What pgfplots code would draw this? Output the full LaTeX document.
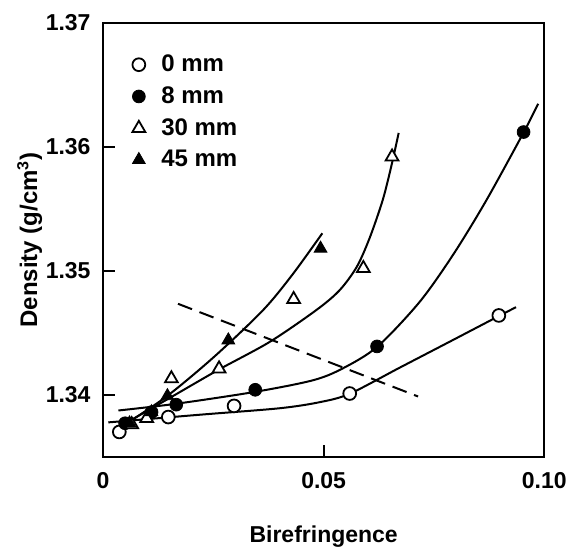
\documentclass[border=0pt]{standalone}
\usepackage{pgfplots}
\pgfplotsset{compat=1.18}
\usepackage{fontspec}
\setmainfont{Liberation Sans}
\begin{document}
\begin{tikzpicture}
\path[use as bounding box] (-51.5pt,-45.65pt) rectangle (232.5pt,228.35pt);
\begin{axis}[
  at={(0pt,0pt)}, anchor=south west,
  scale only axis, width=220.65pt, height=216.85pt,
  xmin=0, xmax=0.1, ymin=1.335, ymax=1.37,
  xtick={0,0.05,0.1}, xticklabels={0,0.05,0.10},
  ytick={1.34,1.35,1.36,1.37}, yticklabels={1.34,1.35,1.36,1.37},
  tick align=inside, xtick pos=bottom, ytick pos=left,
  major tick length=6pt,
  axis line style={line width=1pt},
  tick style={line width=0.9pt, black},
  ticklabel style={font=\bfseries\fontsize{11.5}{13}\selectfont},
  xticklabel style={yshift=-4.3pt},
  yticklabel style={xshift=-2.7pt},
  xlabel={Birefringence},
  ylabel={Density (g/cm\textsuperscript{3})},
  xlabel style={font=\bfseries\fontsize{11.5}{14}\selectfont, at={(axis description cs:0.5,-0.185)}, anchor=center},
  ylabel style={font=\bfseries\fontsize{12}{14}\selectfont, at={(axis description cs:-0.166,0.5)}, anchor=center},
  legend image code/.code={\draw[#1] plot coordinates {(0pt,0pt)}; \path (-3.5pt,0pt) (9pt,0pt);},
  legend style={at={(axis description cs:0.05,0.946)}, anchor=north west,
    draw=none, fill=none, font=\bfseries\fontsize{12}{14}\selectfont, row sep=2pt},
  legend cell align=left,
]
% fitted curves
\addplot[forget plot, smooth, line width=1pt] coordinates {
 (0.0012,1.33777) (0.0220,1.33839) (0.0400,1.33891) (0.0491,1.33940)
 (0.0559,1.34008) (0.0672,1.34218) (0.0785,1.34427) (0.0898,1.34637)
 (0.0936,1.34707)};
\addplot[forget plot, smooth, line width=1pt] coordinates {
 (0.0035,1.33873) (0.0165,1.33927) (0.0344,1.34023) (0.0476,1.34117)
 (0.0544,1.34214) (0.0622,1.34389) (0.0717,1.34747) (0.0793,1.35128)
 (0.0868,1.35565) (0.0953,1.36116) (0.0986,1.36348)};
\addplot[forget plot, smooth, line width=1pt] coordinates {
 (0.0045,1.33758) (0.0152,1.33976) (0.0262,1.34202) (0.0378,1.34427)
 (0.0484,1.34685) (0.0536,1.34843) (0.0575,1.35032) (0.0604,1.35263)
 (0.0634,1.35573) (0.0654,1.35855) (0.0670,1.36113)};
\addplot[forget plot, smooth, line width=1pt] coordinates {
 (0.0043,1.33744) (0.0144,1.33986) (0.0253,1.34310) (0.0363,1.34684)
 (0.0430,1.34973) (0.0497,1.35303)};
\addplot[forget plot, line width=1pt, dash pattern=on 7.5pt off 4pt] coordinates {
 (0.0170,1.34734) (0.0714,1.33986)};
% data points
\addplot[only marks, mark=*, mark size=3.2pt, mark options={fill=white, draw=black, line width=0.9pt}] coordinates {
 (0.0037,1.3370) (0.0148,1.3382) (0.0297,1.3391) (0.0559,1.3401) (0.0897,1.3464)};
\addlegendentry{0 mm}
\addplot[only marks, mark=*, mark size=3.2pt, mark options={fill=black, draw=black}] coordinates {
 (0.0050,1.3377) (0.0110,1.3386) (0.0166,1.3392) (0.0345,1.3404) (0.0621,1.3439) (0.0953,1.3612)};
\addlegendentry{8 mm}
\addplot[only marks, mark=triangle*, mark size=3.7pt, mark options={fill=white, draw=black, line width=0.9pt}] coordinates {
 (0.0065,1.3376) (0.0099,1.3381) (0.0155,1.3413) (0.0263,1.3421) (0.0432,1.3477) (0.0590,1.3502) (0.0655,1.3592)};
\addlegendentry{30 mm}
\addplot[only marks, mark=triangle*, mark size=3.7pt, mark options={fill=black, draw=black}] coordinates {
 (0.0060,1.3377) (0.0110,1.3386) (0.0146,1.3399) (0.0284,1.3444) (0.0493,1.3518)};
\addlegendentry{45 mm}
\end{axis}
\end{tikzpicture}
\end{document}
